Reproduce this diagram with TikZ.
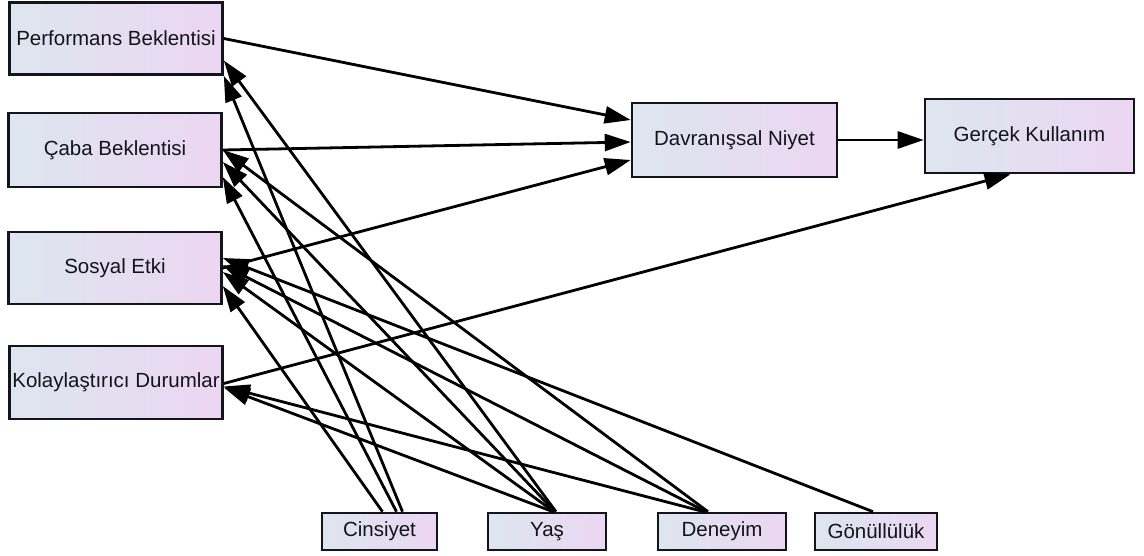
\documentclass[tikz,border=0pt]{standalone}
\usepackage{fontspec}
\setmainfont{Liberation Sans}
\usetikzlibrary{arrows.meta}
\definecolor{boxL}{RGB}{221,230,238}
\definecolor{boxR}{RGB}{236,214,242}
\definecolor{ink}{RGB}{20,20,28}
\tikzset{
  box/.style={draw=ink, line width=2.6pt, left color=boxL, right color=boxR,
    inner sep=0pt, font=\fontsize{20.5}{24}\selectfont, text=ink},
  conn/.style={draw=black, line width=2.8pt, -{Triangle[length=26pt,width=17pt]}},
}
\begin{document}
\begin{tikzpicture}[x=1pt,y=-1pt]
\useasboundingbox (0,0) rectangle (1144,556);
% left column
\node[box, minimum width=213pt, minimum height=72pt] (pe) at (116,38.5) {Performans Beklentisi};
\node[box, minimum width=213pt, minimum height=74pt] (ee) at (115,150) {Çaba Beklentisi};
\node[box, minimum width=213pt, minimum height=72pt] (si) at (115,268) {Sosyal Etki};
\node[box, minimum width=213pt, minimum height=73pt] (fc) at (116,382.5) {Kolaylaştırıcı Durumlar};
% right
\node[box, minimum width=205pt, minimum height=74pt] (dn) at (734.5,140) {Davranışsal Niyet};
\node[box, minimum width=209pt, minimum height=74pt] (gk) at (1029.5,136) {Gerçek Kullanım};
% moderators
\node[box, minimum width=115pt, minimum height=37pt] (cins) at (379.5,531.5) {Cinsiyet};
\node[box, minimum width=118pt, minimum height=37pt] (yas) at (547,531.5) {Yaş};
\node[box, minimum width=128pt, minimum height=37pt] (den) at (722,531.5) {Deneyim};
\node[box, minimum width=122pt, minimum height=37pt] (gon) at (876,531.5) {Gönüllülük};
% main paths
\draw[conn] (pe.east) -- ([yshift=20pt]dn.west);
\draw[conn] (ee.east) -- ([yshift=-2pt]dn.west);
\draw[conn] (si.east) -- ([yshift=-20pt]dn.west);
\draw[conn] (dn.east) -- (dn.east -| gk.west);
\draw[conn] ([yshift=-1pt]fc.east) -- ([xshift=-19pt]gk.south);
% gender
\draw[conn] ([xshift=23pt]cins.north) -- (pe.south east);
\draw[conn] ([xshift=17pt]cins.north) -- ([yshift=-27pt]ee.east);
\draw[conn] ([xshift=3pt]cins.north) -- ([yshift=-18pt]si.east);
% age
\draw[conn] ([xshift=9pt]yas.north) -- ([yshift=-22pt]pe.east);
\draw[conn] ([xshift=8pt]yas.north) -- ([yshift=-12pt]ee.east);
\draw[conn] ([xshift=7pt]yas.north) -- ([yshift=-4pt]si.east);
\draw[conn] ([xshift=6pt]yas.north) -- ([yshift=-5pt]fc.east);
% experience
\draw[conn] ([xshift=-14pt]den.north) -- (ee.east);
\draw[conn] ([xshift=-16pt]den.north) -- ([yshift=3pt]si.east);
\draw[conn] ([xshift=-18pt]den.north) -- ([yshift=-4pt]fc.east);
% voluntariness
\draw[conn] ([xshift=-3pt]gon.north) -- ([yshift=10pt]si.east);
\end{tikzpicture}
\end{document}
